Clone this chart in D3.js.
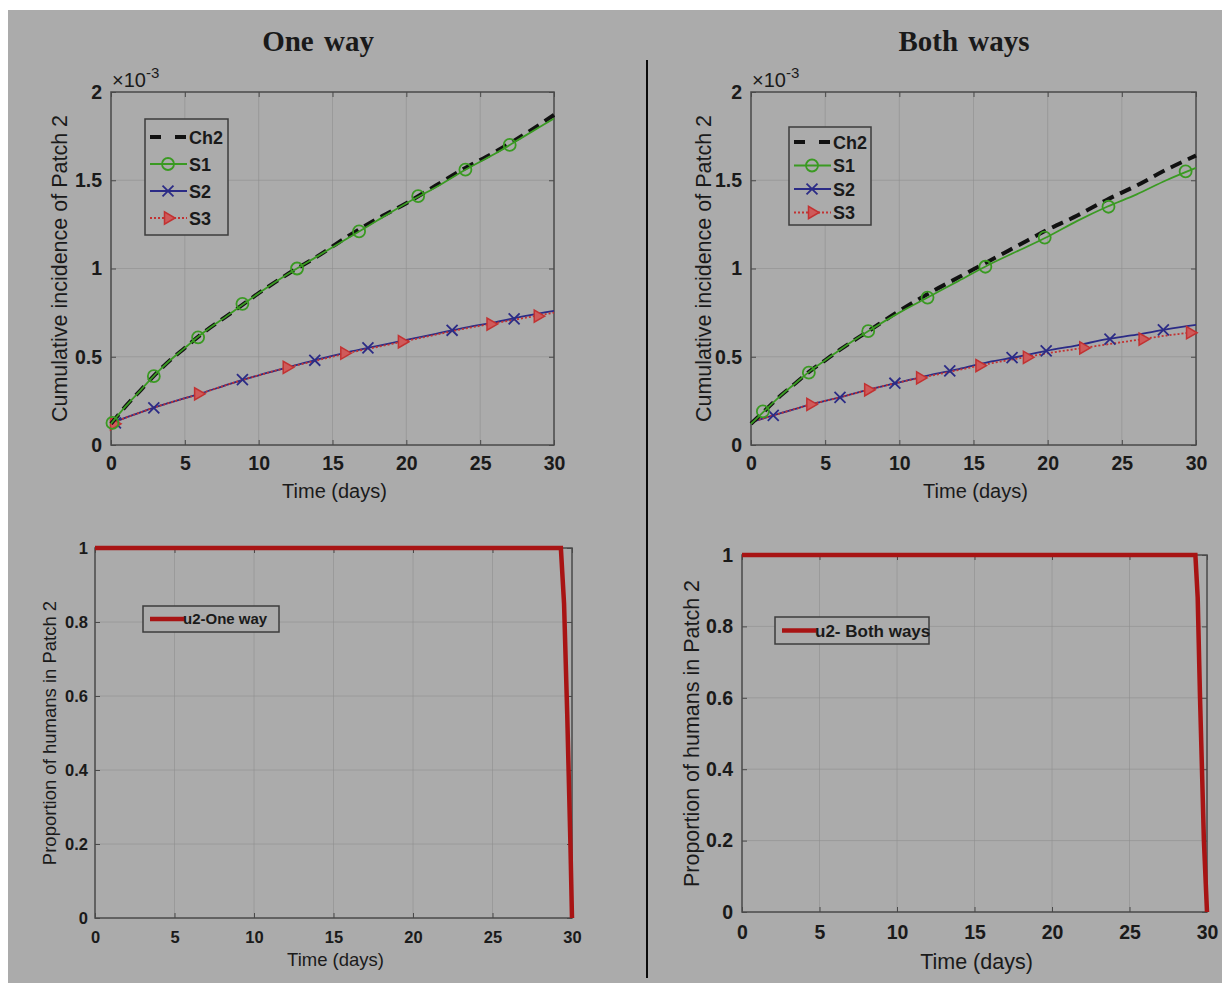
<!DOCTYPE html>
<meta charset="utf-8">
<style>
body { margin: 0; background: #fff; }
svg { display: block; font-family: "Liberation Sans", Arial, sans-serif; }
.grid line { stroke: #8f8f8f; stroke-width: 1px; stroke-opacity: 0.6; }
.tick text { fill: #1a1a1a; font-weight: bold; }
.frame { fill: none; stroke: #4a4a4a; stroke-width: 1.5px; }
.ch2 { fill: none; stroke: #111; stroke-width: 4px; stroke-dasharray: 12 7; }
.s1 { fill: none; stroke: #3a9a22; stroke-width: 1.8px; }
.s2 { fill: none; stroke: #2b2b86; stroke-width: 1.8px; }
.s3 { fill: none; stroke: #c23232; stroke-width: 1.8px; stroke-dasharray: 2 2; }
.u2 { fill: none; stroke: #a81414; stroke-width: 4.5px; }
.lab { fill: #1a1a1a; }
</style>
<body>
<script src="https://d3js.org/d3.v7.min.js"></script>
<script>

// time grid for the cumulative incidence curves (days)
var days = [0, 1, 2, 3, 4, 5, 6, 8, 10, 12, 14, 16, 18, 20, 22, 24, 26, 28, 30];

// One way (x 1e-3)
var ch2One = [0.12, 0.22, 0.31, 0.40, 0.48, 0.55, 0.62, 0.74, 0.86, 0.97, 1.07, 1.18, 1.28, 1.37, 1.47, 1.57, 1.66, 1.76, 1.87];
var s1One  = [0.12, 0.22, 0.31, 0.40, 0.48, 0.55, 0.62, 0.74, 0.86, 0.97, 1.07, 1.17, 1.27, 1.37, 1.46, 1.56, 1.65, 1.75, 1.85];
var s2One  = [0.12, 0.155, 0.185, 0.215, 0.24, 0.265, 0.29, 0.345, 0.395, 0.44, 0.485, 0.525, 0.56, 0.595, 0.63, 0.665, 0.695, 0.73, 0.76];
var s3One  = [0.12, 0.155, 0.185, 0.215, 0.24, 0.265, 0.29, 0.345, 0.395, 0.44, 0.48, 0.52, 0.555, 0.59, 0.625, 0.66, 0.69, 0.72, 0.75];

// marker positions (day, value)
var s1OneMarkT = [0.1, 2.9, 5.9, 8.9, 12.6, 16.8, 20.8, 24, 27];
var s1OneMarkV = [0.125, 0.39, 0.61, 0.80, 1.00, 1.21, 1.41, 1.56, 1.70];
var s2OneMarkT = [0.3, 2.9, 8.9, 13.8, 17.4, 23.1, 27.3];
var s2OneMarkV = [0.125, 0.21, 0.37, 0.48, 0.55, 0.65, 0.715];
var s3OneMarkT = [0.2, 5.9, 11.9, 15.8, 19.7, 25.7, 28.9];
var s3OneMarkV = [0.12, 0.29, 0.44, 0.52, 0.585, 0.685, 0.73];

// Both ways (x 1e-3)
var ch2Both = [0.12, 0.20, 0.28, 0.35, 0.42, 0.48, 0.54, 0.65, 0.76, 0.86, 0.95, 1.04, 1.13, 1.22, 1.30, 1.39, 1.47, 1.56, 1.64];
var s1Both  = [0.12, 0.20, 0.28, 0.35, 0.42, 0.48, 0.54, 0.65, 0.75, 0.84, 0.93, 1.02, 1.10, 1.18, 1.27, 1.35, 1.42, 1.50, 1.57];
var s2Both  = [0.13, 0.155, 0.18, 0.205, 0.23, 0.25, 0.27, 0.315, 0.355, 0.395, 0.43, 0.47, 0.50, 0.535, 0.565, 0.60, 0.625, 0.655, 0.68];
var s3Both  = [0.13, 0.155, 0.18, 0.205, 0.23, 0.25, 0.27, 0.315, 0.355, 0.39, 0.425, 0.46, 0.49, 0.52, 0.545, 0.57, 0.595, 0.62, 0.64];

var s1BothMarkT = [0.8, 3.9, 7.9, 11.9, 15.8, 19.8, 24.1, 29.3];
var s1BothMarkV = [0.19, 0.41, 0.645, 0.835, 1.01, 1.175, 1.35, 1.55];
var s2BothMarkT = [1.5, 6, 9.7, 13.4, 17.6, 19.9, 24.2, 27.8];
var s2BothMarkV = [0.168, 0.27, 0.35, 0.42, 0.495, 0.533, 0.60, 0.652];
var s3BothMarkT = [4, 7.9, 11.4, 15.4, 18.6, 22.4, 26.4, 29.6];
var s3BothMarkV = [0.23, 0.313, 0.38, 0.45, 0.497, 0.55, 0.60, 0.636];

// control u2 (proportion of humans in patch 2)
var uOneT  = [0, 29.3, 29.5, 29.7, 29.9, 30];
var uOneV  = [1, 1, 0.85, 0.55, 0.2, 0];
var uBothT = [0, 29.25, 29.4, 29.55, 29.8, 30];
var uBothV = [1, 1, 0.88, 0.6, 0.2, 0];

// tick labels
var dayTicks = [0, 5, 10, 15, 20, 25, 30];
var incTicks = [0, 0.5, 1, 1.5, 2];
var propTicks = [0, 0.2, 0.4, 0.6, 0.8, 1];

var titles = ["One way", "Both ways"];
var seriesNames = ["Ch2", "S1", "S2", "S3"];

var W = 1229, H = 983;

var svg = d3.select("body").append("svg")
    .attr("width", W)
    .attr("height", H);

// gray figure background
svg.append("rect")
    .attr("x", 8).attr("y", 10)
    .attr("width", 1214).attr("height", 973)
    .attr("fill", "#ababab");

// divider
svg.append("line")
    .attr("x1", 647).attr("x2", 647)
    .attr("y1", 60).attr("y2", 978)
    .attr("stroke", "#0a0a0a").attr("stroke-width", 2);

// titles
svg.selectAll(".title").data(titles).enter().append("text")
    .attr("class", "lab")
    .attr("x", function(d, i) { return i ? 964 : 318; })
    .attr("y", 51)
    .attr("text-anchor", "middle")
    .style("font-family", "'Liberation Serif', 'Times New Roman', serif")
    .style("font-weight", "bold")
    .style("font-size", "29px")
    .style("word-spacing", "3px")
    .text(function(d) { return d; });

function zip(t, v) {
  return t.map(function(d, i) { return [d, v[i]]; });
}

function darkTicks(g) {
  g.select(".domain").remove();
  g.selectAll("line").attr("stroke", "#4a4a4a");
}

// axes box with grid, inward ticks on all four sides
function frame(p) {
  var x = d3.scaleLinear().domain([0, 30]).range([p.x0, p.x1]);
  var y = d3.scaleLinear().domain(p.ydom).range([p.y0, p.y1]);

  var grid = svg.append("g").attr("class", "grid");
  grid.selectAll(".gx").data(dayTicks.slice(1, -1)).enter().append("line")
      .attr("x1", x).attr("x2", x).attr("y1", p.y0).attr("y2", p.y1);
  grid.selectAll(".gy").data(p.yticks.slice(1, -1)).enter().append("line")
      .attr("x1", p.x0).attr("x2", p.x1).attr("y1", y).attr("y2", y);

  svg.append("g")
      .attr("transform", "translate(0," + p.y0 + ")")
      .style("font-size", p.fs + "px")
      .call(d3.axisBottom(x).tickValues(dayTicks).tickSizeInner(-5).tickSizeOuter(0).tickPadding(p.padX))
      .call(darkTicks);

  svg.append("g")
      .attr("transform", "translate(" + p.x0 + ",0)")
      .style("font-size", p.fs + "px")
      .call(d3.axisLeft(y).tickValues(p.yticks).tickSizeInner(-5).tickSizeOuter(0).tickPadding(p.padY)
            .tickFormat(d3.format("")))
      .call(darkTicks);

  svg.append("g")
      .attr("transform", "translate(0," + p.y1 + ")")
      .call(d3.axisTop(x).tickValues(dayTicks).tickSizeInner(-5).tickSizeOuter(0).tickFormat(""))
      .call(darkTicks);

  svg.append("g")
      .attr("transform", "translate(" + p.x1 + ",0)")
      .call(d3.axisRight(y).tickValues(p.yticks).tickSizeInner(-5).tickSizeOuter(0).tickFormat(""))
      .call(darkTicks);

  svg.append("rect").attr("class", "frame")
      .attr("x", p.x0).attr("y", p.y1)
      .attr("width", p.x1 - p.x0).attr("height", p.y0 - p.y1);

  // axis labels
  svg.append("text").attr("class", "lab")
      .attr("x", (p.x0 + p.x1) / 2 + 2).attr("y", p.xlabY)
      .attr("text-anchor", "middle")
      .style("font-size", p.lfs + "px")
      .text("Time (days)");

  svg.append("text").attr("class", "lab")
      .attr("transform", "translate(" + p.ylabX + "," + ((p.y0 + p.y1) / 2) + ") rotate(-90)")
      .attr("text-anchor", "middle")
      .style("font-size", p.ylfs + "px")
      .text(p.ylabel);

  return {x: x, y: y};
}

function markers(g, sc, t, v, kind, color) {
  var pts = zip(t, v);
  if (kind === "circle") {
    g.selectAll(null).data(pts).enter().append("circle")
        .attr("cx", function(d) { return sc.x(d[0]); })
        .attr("cy", function(d) { return sc.y(d[1]); })
        .attr("r", 6)
        .attr("fill", "none").attr("stroke", color).attr("stroke-width", 1.8);
  } else if (kind === "x") {
    g.selectAll(null).data(pts).enter().append("path")
        .attr("d", d3.symbol(d3.symbolTimes, 80))
        .attr("transform", function(d) { return "translate(" + sc.x(d[0]) + "," + sc.y(d[1]) + ")"; })
        .attr("fill", "none").attr("stroke", color).attr("stroke-width", 1.8);
  } else {
    g.selectAll(null).data(pts).enter().append("path")
        .attr("d", d3.symbol(d3.symbolTriangle, 64))
        .attr("transform", function(d) { return "translate(" + sc.x(d[0]) + "," + sc.y(d[1]) + ") rotate(90)"; })
        .attr("fill", "#cf5a5a").attr("stroke", color).attr("stroke-width", 1.5);
  }
}

function incidencePanel(p, ch2, s1, s2, s3, m) {
  var sc = frame(p);
  var line = d3.line()
      .x(function(d) { return sc.x(d[0]); })
      .y(function(d) { return sc.y(d[1]); })
      .curve(d3.curveMonotoneX);

  svg.append("path").datum(zip(days, s2)).attr("class", "s2").attr("d", line);
  svg.append("path").datum(zip(days, s3)).attr("class", "s3").attr("d", line);
  markers(svg.append("g"), sc, m.s2t, m.s2v, "x", "#2b2b86");
  markers(svg.append("g"), sc, m.s3t, m.s3v, "tri", "#c23232");
  svg.append("path").datum(zip(days, ch2)).attr("class", "ch2").attr("d", line);
  svg.append("path").datum(zip(days, s1)).attr("class", "s1").attr("d", line);
  markers(svg.append("g"), sc, m.s1t, m.s1v, "circle", "#3a9a22");

  // x10^-3 exponent
  var ex = svg.append("text").attr("class", "lab")
      .attr("x", p.x0 + 1).attr("y", p.y1 - 5)
      .style("font-size", "20px");
  ex.append("tspan").text("\u00d710");
  ex.append("tspan").attr("dy", -9).style("font-size", "15px").text("-3");

  // legend
  var lg = svg.append("g").attr("transform", "translate(" + p.lgx + "," + p.lgy + ")");
  lg.append("rect").attr("width", p.lgw).attr("height", p.lgh)
      .attr("fill", "#ababab").attr("stroke", "#3c3c3c").attr("stroke-width", 1.5);
  var cls = ["ch2", "s1", "s2", "s3"];
  var kinds = [null, "circle", "x", "tri"];
  var cols = ["#111", "#3a9a22", "#2b2b86", "#c23232"];
  var ident = {x: function(d) { return d; }, y: function(d) { return d; }};
  seriesNames.forEach(function(name, i) {
    var yy = p.lgtop + i * p.lgstep;
    lg.append("line").attr("class", cls[i])
        .attr("x1", 5).attr("x2", 42).attr("y1", yy).attr("y2", yy)
        .style("stroke-dasharray", i === 0 ? "11 14" : null);
    if (kinds[i]) markers(lg.append("g"), ident, [23], [yy], kinds[i], cols[i]);
    lg.append("text").attr("class", "lab")
        .attr("x", 44).attr("y", yy + 6.5)
        .style("font-size", "18px").style("font-weight", "bold")
        .text(name);
  });
}

function controlPanel(p, t, v, label) {
  var sc = frame(p);
  var line = d3.line()
      .x(function(d) { return sc.x(d[0]); })
      .y(function(d) { return sc.y(d[1]); });
  svg.append("path").datum(zip(t, v)).attr("class", "u2").attr("d", line);

  var lg = svg.append("g").attr("transform", "translate(" + p.lgx + "," + p.lgy + ")");
  lg.append("rect").attr("width", p.lgw).attr("height", p.lgh)
      .attr("fill", "#ababab").attr("stroke", "#3c3c3c").attr("stroke-width", 1.5);
  lg.append("line").attr("class", "u2")
      .attr("x1", 7).attr("x2", 41).attr("y1", p.lgh / 2).attr("y2", p.lgh / 2);
  lg.append("text").attr("class", "lab")
      .attr("x", 40).attr("y", p.lgh / 2 + p.lgfs * 0.36)
      .style("font-size", p.lgfs + "px").style("font-weight", "bold")
      .text(label);
}

incidencePanel({x0: 111, x1: 554, y0: 445, y1: 92, ydom: [0, 2], yticks: incTicks,
                fs: 19.5, lfs: 20, ylfs: 21.5, padX: 11, padY: 9, xlabY: 498, ylabX: 67,
                ylabel: "Cumulative incidence of Patch 2",
                lgx: 145, lgy: 119, lgw: 83, lgh: 116, lgtop: 18, lgstep: 27},
               ch2One, s1One, s2One, s3One,
               {s1t: s1OneMarkT, s1v: s1OneMarkV, s2t: s2OneMarkT, s2v: s2OneMarkV, s3t: s3OneMarkT, s3v: s3OneMarkV});

incidencePanel({x0: 751, x1: 1196, y0: 445, y1: 92, ydom: [0, 2], yticks: incTicks,
                fs: 19.5, lfs: 20, ylfs: 21.5, padX: 11, padY: 9, xlabY: 498, ylabX: 711,
                ylabel: "Cumulative incidence of Patch 2",
                lgx: 789, lgy: 127, lgw: 82, lgh: 98, lgtop: 15, lgstep: 23.5},
               ch2Both, s1Both, s2Both, s3Both,
               {s1t: s1BothMarkT, s1v: s1BothMarkV, s2t: s2BothMarkT, s2v: s2BothMarkV, s3t: s3BothMarkT, s3v: s3BothMarkV});

controlPanel({x0: 95, x1: 572, y0: 918, y1: 548, ydom: [0, 1], yticks: propTicks,
              fs: 16.5, lfs: 18.5, ylfs: 18.5, padX: 13, padY: 7, xlabY: 966, ylabX: 56,
              ylabel: "Proportion of humans in Patch 2",
              lgx: 143, lgy: 606, lgw: 136, lgh: 26, lgfs: 15},
             uOneT, uOneV, "u2-One way");

controlPanel({x0: 742, x1: 1207, y0: 912, y1: 555, ydom: [0, 1], yticks: propTicks,
              fs: 19.5, lfs: 21.5, ylfs: 21.5, padX: 13, padY: 9, xlabY: 969, ylabX: 699,
              ylabel: "Proportion of humans in Patch 2",
              lgx: 775, lgy: 617, lgw: 154, lgh: 27, lgfs: 17},
             uBothT, uBothV, "u2- Both ways");

</script>
</body>
